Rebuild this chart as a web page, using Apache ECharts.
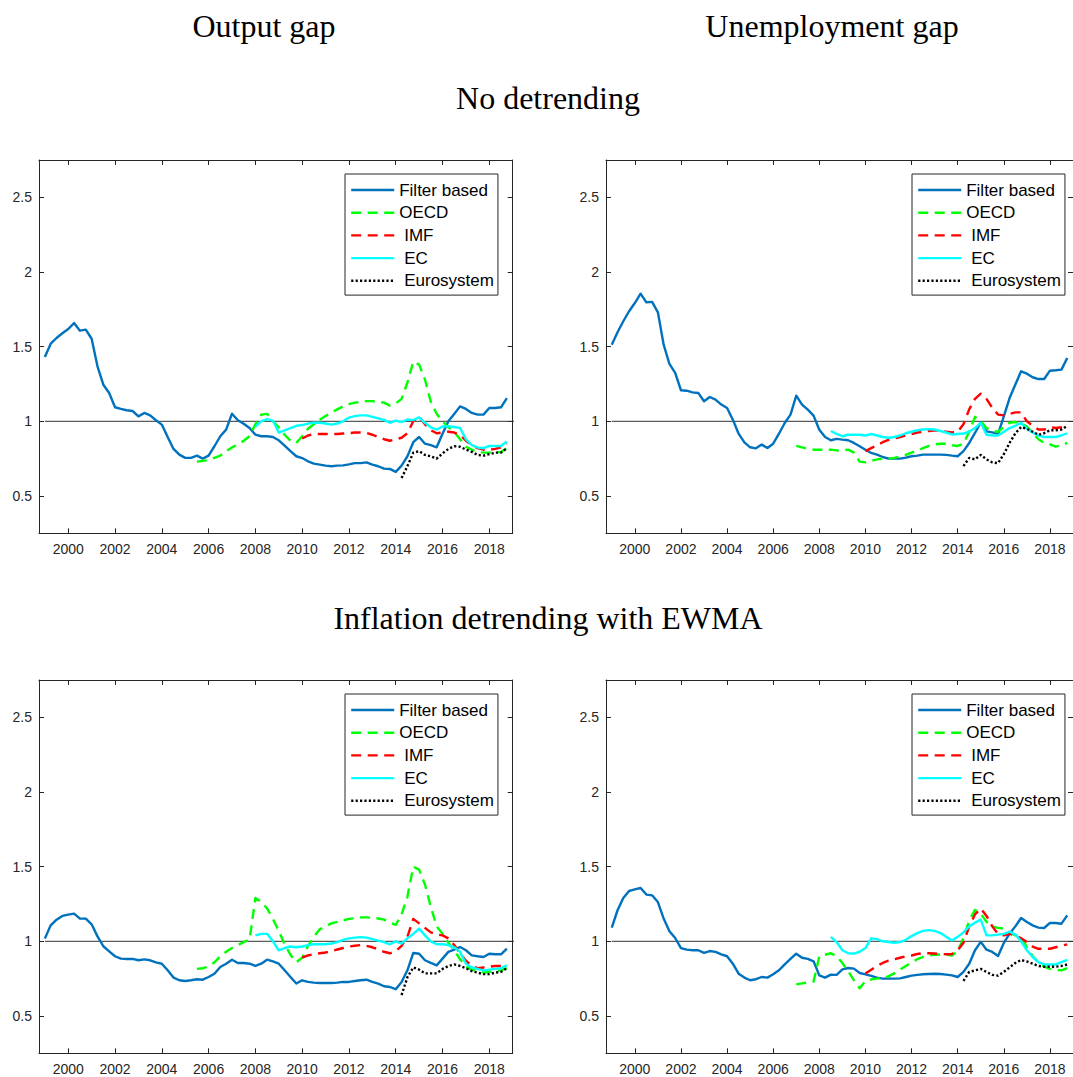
<!DOCTYPE html>
<html>
<head>
<meta charset="utf-8">
<title>Output and unemployment gaps</title>
<script src="https://cdn.jsdelivr.net/npm/echarts@6/dist/echarts.min.js"></script>
<style>
  html, body { margin: 0; padding: 0; background: #fff; }
  #chart { width: 1073px; height: 1077px; }
</style>
</head>
<body>
<div id="chart"></div>
<script>
// ---------- data (quarterly, first value at the given start year) ----------
const xTickYears = [2000, 2002, 2004, 2006, 2008, 2010, 2012, 2014, 2016, 2018];
const yTickValues = [0.5, 1, 1.5, 2, 2.5];
const seriesNames = ['Filter based', 'OECD', 'IMF', 'EC', 'Eurosystem'];

const filterStart = 1999.0;
const imfStart = 2010.0;
const eurosystemStart = 2014.25;
const outputOecdStart = 2005.5;
const outputEcStart = 2008.0;
const unempOecdStart = 2007.0;
const unempEcStart = 2008.5;

// Output gap, no detrending
const outFilter = [
  1.431, 1.52, 1.558, 1.59, 1.618, 1.658, 1.607, 1.614, 1.553, 1.368, 1.245, 1.19,
  1.094, 1.083, 1.074, 1.069, 1.033, 1.056, 1.04, 1.007, 0.978, 0.895, 0.815, 0.777,
  0.755, 0.755, 0.77, 0.75, 0.77, 0.833, 0.9, 0.944, 1.051, 1.007, 0.984, 0.955,
  0.911, 0.9, 0.9, 0.895, 0.873, 0.837, 0.8, 0.766, 0.754, 0.732, 0.717, 0.71,
  0.703, 0.699, 0.703, 0.705, 0.712, 0.72, 0.72, 0.725, 0.71, 0.699, 0.683, 0.681,
  0.661, 0.703, 0.766, 0.86, 0.895, 0.85, 0.84, 0.826, 0.917, 1.0, 1.049, 1.1,
  1.083, 1.056, 1.045, 1.045, 1.089, 1.089, 1.094, 1.156
];
const outOecd = [
  0.73, 0.735, 0.74, 0.755, 0.77, 0.80, 0.825, 0.845, 0.87, 0.90,
  0.98, 1.045, 1.05, 1.0, 0.96, 0.91, 0.87, 0.855, 0.90, 0.95, 0.98, 1.01,
  1.035, 1.06, 1.08, 1.10, 1.115, 1.125, 1.13, 1.135, 1.135, 1.13, 1.125, 1.105,
  1.12, 1.15, 1.26, 1.40, 1.38, 1.28, 1.13, 1.05, 1.0, 0.96, 0.93, 0.88,
  0.83, 0.81, 0.795, 0.79, 0.79, 0.79, 0.795, 0.82
];
const outImf = [
  0.885, 0.905, 0.915, 0.915, 0.915, 0.915, 0.915, 0.918, 0.92, 0.925, 0.925, 0.922,
  0.91, 0.895, 0.88, 0.87, 0.88, 0.89, 0.92, 1.0, 1.03, 0.98, 0.94, 0.92,
  0.925, 0.93, 0.925, 0.91, 0.87, 0.84, 0.82, 0.81, 0.81, 0.815, 0.825, 0.85
];
const outEc = [
  0.965, 1.0, 1.015, 1.005, 0.925, 0.94, 0.955, 0.97, 0.975, 0.985, 0.99, 0.99,
  0.985, 0.978, 0.985, 1.0, 1.025, 1.035, 1.04, 1.04, 1.03, 1.02, 1.01, 0.99,
  1.005, 0.995, 1.012, 1.008, 1.027, 0.99, 0.96, 0.945, 0.965, 0.968, 0.962, 0.955,
  0.88, 0.84, 0.825, 0.82, 0.835, 0.835, 0.835, 0.865
];
const outEuro = [
  0.62, 0.70, 0.79, 0.80, 0.775, 0.765, 0.75, 0.785, 0.815, 0.833, 0.83,
  0.81, 0.795, 0.775, 0.77, 0.78, 0.79, 0.79, 0.82
];

// Unemployment gap, no detrending
const unFilter = [
  1.513, 1.596, 1.67, 1.737, 1.792, 1.855, 1.797, 1.80, 1.73, 1.513, 1.384, 1.324,
  1.208, 1.205, 1.194, 1.19, 1.134, 1.163, 1.145, 1.112, 1.089, 1.011, 0.917, 0.859,
  0.826, 0.819, 0.844, 0.821, 0.85, 0.917, 0.989, 1.045, 1.172, 1.112, 1.078, 1.038,
  0.944, 0.895, 0.873, 0.882, 0.877, 0.873, 0.855, 0.833, 0.81, 0.788, 0.777, 0.761,
  0.75, 0.75, 0.75, 0.757, 0.766, 0.77, 0.777, 0.777, 0.777, 0.777, 0.775, 0.77,
  0.766, 0.8, 0.855, 0.922, 0.993, 0.933, 0.926, 0.915, 1.033, 1.156, 1.246, 1.335,
  1.319, 1.295, 1.283, 1.283, 1.339, 1.342, 1.346, 1.424
];
const unOecd = [
  0.835, 0.825, 0.815, 0.81, 0.81, 0.81, 0.81, 0.805, 0.805, 0.81, 0.79, 0.73,
  0.725, 0.735, 0.745, 0.75, 0.75, 0.755, 0.765, 0.775, 0.79, 0.805, 0.82, 0.835,
  0.845, 0.85, 0.85, 0.84, 0.835, 0.85, 0.93, 1.03, 1.0, 0.955, 0.935, 0.93,
  0.96, 0.99, 0.995, 0.99, 0.965, 0.92, 0.88, 0.855, 0.845, 0.83, 0.84, 0.855
];
const unImf = [
  0.80, 0.82, 0.84, 0.86, 0.875, 0.885, 0.895, 0.905, 0.915, 0.925, 0.93, 0.935,
  0.94, 0.935, 0.93, 0.925, 0.93, 0.98, 1.08, 1.15, 1.185, 1.15, 1.09, 1.045,
  1.04, 1.05, 1.06, 1.06, 1.0, 0.97, 0.945, 0.945, 0.96, 0.955, 0.96, 0.975
];
const unEc = [
  0.935, 0.915, 0.90, 0.91, 0.91, 0.91, 0.905, 0.915, 0.905, 0.895,
  0.89, 0.895, 0.905, 0.92, 0.93, 0.94, 0.945, 0.948, 0.945, 0.935, 0.925, 0.912,
  0.915, 0.918, 0.93, 0.955, 0.99, 0.91, 0.905, 0.905, 0.93, 0.955, 0.97, 0.99,
  0.95, 0.925, 0.905, 0.895, 0.895, 0.895, 0.905, 0.92
];
const unEuro = [
  0.70, 0.755, 0.745, 0.775, 0.745, 0.725, 0.72, 0.78, 0.855, 0.92, 0.962,
  0.95, 0.93, 0.91, 0.92, 0.94, 0.94, 0.945, 0.97
];

// Output gap, inflation detrended with EWMA
const outEwmaFilter = [
  1.018, 1.107, 1.145, 1.17, 1.179, 1.185, 1.152, 1.152, 1.114, 1.033, 0.967, 0.933,
  0.9, 0.884, 0.882, 0.882, 0.873, 0.879, 0.873, 0.859, 0.85, 0.806, 0.757, 0.739,
  0.734, 0.739, 0.746, 0.743, 0.761, 0.783, 0.828, 0.85, 0.877, 0.855, 0.855, 0.85,
  0.835, 0.85, 0.877, 0.866, 0.85, 0.806, 0.761, 0.717, 0.739, 0.728, 0.723, 0.721,
  0.721, 0.721, 0.723, 0.728, 0.728, 0.734, 0.739, 0.743, 0.728, 0.717, 0.699, 0.694,
  0.679, 0.728, 0.806, 0.922, 0.917, 0.873, 0.855, 0.839, 0.884, 0.929, 0.944, 0.962,
  0.94, 0.906, 0.9, 0.895, 0.917, 0.913, 0.913, 0.951
];
const outEwmaOecd = [
  0.815, 0.82, 0.83, 0.86, 0.9, 0.93, 0.955, 0.975, 0.995, 1.01,
  1.29, 1.265, 1.22, 1.15, 1.07, 0.98, 0.91, 0.86, 0.89, 0.97, 1.03, 1.08,
  1.1, 1.12, 1.13, 1.14, 1.15, 1.155, 1.16, 1.16, 1.158, 1.153, 1.145, 1.125,
  1.11, 1.18, 1.3, 1.5, 1.48, 1.38, 1.23, 1.1, 1.05, 0.99, 0.94, 0.88,
  0.83, 0.81, 0.8, 0.79, 0.795, 0.8, 0.805, 0.82
];
const outEwmaImf = [
  0.89, 0.905, 0.915, 0.92, 0.925, 0.935, 0.945, 0.955, 0.965, 0.97, 0.975, 0.97,
  0.96, 0.945, 0.93, 0.92, 0.935, 0.97, 1.03, 1.15, 1.12, 1.09, 1.06, 1.045,
  1.04, 1.02, 0.975, 0.92, 0.87, 0.835, 0.82, 0.825, 0.83, 0.835, 0.835, 0.85
];
const outEwmaEc = [
  1.04, 1.05, 1.05, 1.0, 0.94, 0.955, 0.965, 0.96, 0.965, 0.975, 0.98, 0.98,
  0.98, 0.985, 0.995, 1.01, 1.02, 1.025, 1.028, 1.025, 1.015, 1.005, 0.995, 0.98,
  1.0, 0.985, 1.02, 1.05, 1.085, 1.04, 1.0, 0.98, 0.98, 0.975, 0.96, 0.93,
  0.85, 0.825, 0.815, 0.805, 0.81, 0.815, 0.82, 0.84
];
const outEwmaEuro = [
  0.64, 0.76, 0.825, 0.81, 0.785, 0.785, 0.785, 0.815, 0.835, 0.845, 0.835,
  0.82, 0.80, 0.79, 0.78, 0.78, 0.79, 0.795, 0.82
];

// Unemployment gap, inflation detrended with EWMA
const unEwmaFilter = [
  1.092, 1.208, 1.29, 1.337, 1.348, 1.357, 1.313, 1.308, 1.263, 1.152, 1.067, 1.022,
  0.955, 0.944, 0.94, 0.94, 0.922, 0.935, 0.929, 0.913, 0.9, 0.85, 0.783, 0.757,
  0.739, 0.746, 0.761, 0.757, 0.779, 0.806, 0.846, 0.882, 0.917, 0.89, 0.882, 0.866,
  0.772, 0.757, 0.777, 0.775, 0.812, 0.821, 0.817, 0.788, 0.779, 0.768, 0.757, 0.75,
  0.75, 0.75, 0.752, 0.761, 0.77, 0.775, 0.779, 0.781, 0.783, 0.781, 0.777, 0.772,
  0.761, 0.795, 0.85, 0.94, 0.996, 0.944, 0.929, 0.902, 0.989, 1.051, 1.1, 1.156,
  1.129, 1.107, 1.092, 1.089, 1.123, 1.123, 1.118, 1.174
];
const unEwmaOecd = [
  0.712, 0.718, 0.724, 0.73, 0.90, 0.91, 0.92, 0.9, 0.855, 0.8, 0.74, 0.685,
  0.735, 0.745, 0.75, 0.755, 0.765, 0.785, 0.81, 0.835, 0.86, 0.88, 0.895, 0.905,
  0.91, 0.912, 0.912, 0.905, 0.935, 1.02, 1.14, 1.21, 1.185, 1.13, 1.1, 1.09,
  1.085, 1.06, 1.04, 1.03, 0.96, 0.9, 0.86, 0.83, 0.815, 0.81, 0.805, 0.82
];
const unEwmaImf = [
  0.785, 0.81, 0.835, 0.855, 0.87, 0.88, 0.89, 0.9, 0.905, 0.915, 0.92, 0.92,
  0.918, 0.915, 0.913, 0.915, 0.94, 0.99, 1.1, 1.18, 1.22, 1.17, 1.1, 1.05,
  1.04, 1.05, 1.04, 1.02, 0.995, 0.965, 0.95, 0.95, 0.95, 0.96, 0.97, 0.98
];
const unEwmaEc = [
  1.03, 0.995, 0.94, 0.92, 0.918, 0.93, 0.955, 1.02, 1.015, 1.0,
  0.995, 0.99, 0.995, 1.01, 1.035, 1.055, 1.07, 1.075, 1.07, 1.055, 1.03, 1.005,
  1.03, 1.06, 1.1, 1.125, 1.145, 1.04, 1.04, 1.045, 1.05, 1.065, 1.045, 1.0,
  0.94, 0.895, 0.86, 0.845, 0.845, 0.845, 0.86, 0.875
];
const unEwmaEuro = [
  0.735, 0.795, 0.805, 0.815, 0.795, 0.775, 0.77, 0.795, 0.825, 0.855, 0.875,
  0.865, 0.85, 0.835, 0.83, 0.83, 0.83, 0.835, 0.845
];

// ---------- panel layout ----------
const FONT_SANS = '"Liberation Sans", Arial, sans-serif';
const FONT_SERIF = '"Liberation Serif", "Times New Roman", serif';
const PLOT_W = 473.7, PLOT_H = 373.3;

const panels = [
  { left: 39,  top: 160, lists: [outFilter, outOecd, outImf, outEc, outEuro],
    starts: [filterStart, outputOecdStart, imfStart, outputEcStart, eurosystemStart] },
  { left: 606, top: 160, lists: [unFilter, unOecd, unImf, unEc, unEuro],
    starts: [filterStart, unempOecdStart, imfStart, unempEcStart, eurosystemStart] },
  { left: 39,  top: 680, lists: [outEwmaFilter, outEwmaOecd, outEwmaImf, outEwmaEc, outEwmaEuro],
    starts: [filterStart, outputOecdStart, imfStart, outputEcStart, eurosystemStart] },
  { left: 606, top: 680, lists: [unEwmaFilter, unEwmaOecd, unEwmaImf, unEwmaEc, unEwmaEuro],
    starts: [filterStart, unempOecdStart, imfStart, unempEcStart, eurosystemStart] }
];

const LINE_W = 2.4;
const lineLook = {
  'Filter based': { color: '#0072BD', type: 'solid' },
  'OECD':         { color: '#00FF00', type: [10, 6.5] },
  'IMF':          { color: '#FF0000', type: [10, 6.5] },
  'EC':           { color: '#00FFFF', type: 'solid' },
  'Eurosystem':   { color: '#000000', type: [2.2, 2.2] }
};
const indented = ['IMF', 'EC', 'Eurosystem'];

function quarterly(start, values) {
  return values.map((v, i) => [start + i * 0.25, v]);
}

const AXIS_COLOR = '#262626';
const grids = [], xAxes = [], yAxes = [], series = [], legends = [];

panels.forEach((p, k) => {
  grids.push({ left: p.left, top: p.top, width: PLOT_W, height: PLOT_H, containLabel: false });

  const xBase = {
    type: 'value', gridIndex: k, min: 1998.75, max: 2019.0,
    splitLine: { show: false },
    axisLine: { show: true, onZero: false, lineStyle: { color: AXIS_COLOR, width: 1 } },
    axisTick: { show: true, inside: true, length: 5, customValues: xTickYears,
                lineStyle: { color: AXIS_COLOR, width: 1 } }
  };
  xAxes.push(Object.assign({}, xBase, {
    position: 'bottom',
    axisLabel: { show: true, customValues: xTickYears, margin: 9, fontSize: 14,
                 fontFamily: FONT_SANS, color: AXIS_COLOR, formatter: v => String(v) }
  }));
  xAxes.push(Object.assign({}, xBase, { position: 'top', axisLabel: { show: false } }));

  const yBase = {
    type: 'value', gridIndex: k, min: 0.25, max: 2.75,
    splitLine: { show: false },
    axisLine: { show: true, onZero: false, lineStyle: { color: AXIS_COLOR, width: 1 } },
    axisTick: { show: true, inside: true, length: 5, customValues: yTickValues,
                lineStyle: { color: AXIS_COLOR, width: 1 } }
  };
  yAxes.push(Object.assign({}, yBase, {
    position: 'left',
    axisLabel: { show: true, customValues: yTickValues, margin: 7, fontSize: 14,
                 fontFamily: FONT_SANS, color: AXIS_COLOR, formatter: v => String(v) }
  }));
  yAxes.push(Object.assign({}, yBase, { position: 'right', axisLabel: { show: false } }));

  // reference line at 1
  series.push({
    type: 'line', name: 'baseline', xAxisIndex: 2 * k, yAxisIndex: 2 * k,
    data: [[1999, 1], [2019.5, 1]], symbol: 'none', silent: true, z: 1,
    lineStyle: { color: '#333333', width: 1 }
  });

  seriesNames.forEach((name, j) => {
    const look = lineLook[name];
    series.push({
      type: 'line', name: name, xAxisIndex: 2 * k, yAxisIndex: 2 * k,
      data: quarterly(p.starts[j], p.lists[j]),
      symbol: 'none', showSymbol: false, silent: true, z: 2 + j,
      itemStyle: { color: look.color },
      lineStyle: { color: look.color, width: LINE_W, type: look.type, cap: 'butt', join: 'round' }
    });
  });

  legends.push({
    data: seriesNames, orient: 'vertical', selectedMode: false,
    left: p.left + 306, top: p.top + 14,
    itemWidth: 43, itemHeight: 12, itemGap: 5.7,
    padding: [7.5, 4, 5.8, 5],
    borderColor: AXIS_COLOR, borderWidth: 1, backgroundColor: '#ffffff',
    lineStyle: { width: LINE_W },
    itemStyle: { color: 'rgba(0,0,0,0)', borderWidth: 0, opacity: 0 },
    formatter: n => indented.includes(n) ? '{gap|}' + n : n,
    textStyle: { fontFamily: FONT_SANS, fontSize: 17, color: '#000000', lineHeight: 17,
                 rich: { gap: { width: 5 } } }
  });
});

const headings = [
  { text: 'Output gap', x: 264, y: 26 },
  { text: 'Unemployment gap', x: 832, y: 26 },
  { text: 'No detrending', x: 548, y: 98 },
  { text: 'Inflation detrending with EWMA', x: 548, y: 618 }
];

const chart = echarts.init(document.getElementById('chart'), null, { renderer: 'svg' });
chart.setOption({
  animation: false,
  backgroundColor: '#ffffff',
  grid: grids,
  xAxis: xAxes,
  yAxis: yAxes,
  legend: legends,
  series: series,
  graphic: headings.map(h => ({
    type: 'text', x: h.x, y: h.y, silent: true,
    style: { text: h.text, font: '32px ' + FONT_SERIF, fill: '#000000',
             textAlign: 'center', textVerticalAlign: 'middle', align: 'center', verticalAlign: 'middle' }
  }))
});
</script>
</body>
</html>
